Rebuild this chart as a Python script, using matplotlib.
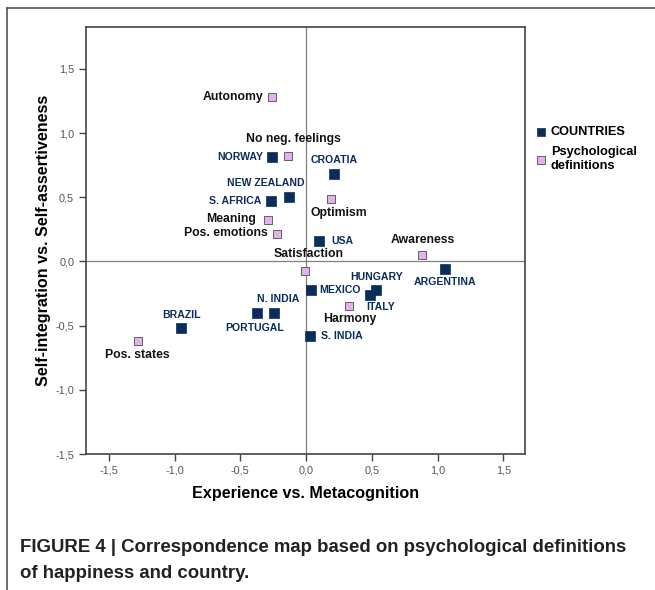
import matplotlib.pyplot as plt
from matplotlib.lines import Line2D
from matplotlib.ticker import FuncFormatter

plt.rcParams["font.family"] = ["Liberation Sans", "DejaVu Sans"]

# Data: correspondence analysis coordinates
countries = ["NORWAY", "CROATIA", "NEW ZEALAND", "S. AFRICA", "USA", "ARGENTINA",
             "MEXICO", "HUNGARY", "ITALY", "N. INDIA", "PORTUGAL", "BRAZIL", "S. INDIA"]
country_x = [-0.26, 0.21, -0.13, -0.27, 0.10, 1.06, 0.04, 0.53, 0.49, -0.24, -0.375, -0.95, 0.03]
country_y = [0.81, 0.68, 0.50, 0.47, 0.16, -0.06, -0.22, -0.22, -0.26, -0.40, -0.40, -0.52, -0.58]

definitions = ["Autonomy", "No neg. feelings", "Optimism", "Meaning", "Pos. emotions",
               "Satisfaction", "Awareness", "Harmony", "Pos. states"]
def_x = [-0.26, -0.14, 0.19, -0.29, -0.22, -0.01, 0.88, 0.33, -1.28]
def_y = [1.28, 0.82, 0.49, 0.32, 0.21, -0.075, 0.05, -0.35, -0.62]

x_ticks = [-1.5, -1.0, -0.5, 0.0, 0.5, 1.0, 1.5]
y_ticks = [-1.5, -1.0, -0.5, 0.0, 0.5, 1.0, 1.5]

# label placement (pixel offsets from marker, horizontal alignment)
country_offsets = [(-9, 0, "right"), (1, -14, "center"), (-23, -14, "center"),
                   (-9, 0, "right"), (12, 0, "left"), (0, 13, "center"),
                   (8, 0, "left"), (1, -13, "center"), (-4, 12, "left"),
                   (4, -14, "center"), (-2, 15, "center"), (0, -13, "center"),
                   (11, 0, "left")]
def_offsets = [(-8, 0, "right"), (6, -17, "center"), (8, 14, "center"),
               (-12, -1, "right"), (-9, -1, "right"), (4, -17, "center"),
               (1, -15, "center"), (0, 13, "center"), (0, 14, "center")]

navy = "#0b2d5c"
pink = "#e2b3ea"

fig = plt.figure(figsize=(6.55, 5.9), dpi=100)
ax = fig.add_axes([0.1313, 0.2305, 0.6702, 0.7237])

ax.axhline(0, color="#808080", lw=0.9, zorder=1)
ax.axvline(0, color="#808080", lw=0.9, zorder=1)

ax.scatter(country_x, country_y, marker="s", s=50, color=navy, edgecolor=navy,
           linewidth=0.5, zorder=3, label="COUNTRIES")
ax.scatter(def_x, def_y, marker="s", s=40, color=pink, edgecolor="#6a5a70",
           linewidth=0.7, zorder=3, label="Psychological\ndefinitions")

for name, x, y, (dx, dy, ha) in zip(countries, country_x, country_y, country_offsets):
    ax.annotate(name, (x, y), xytext=(dx, -dy), textcoords="offset pixels",
                ha=ha, va="center", fontsize=7.6, fontweight="bold", color=navy)

for name, x, y, (dx, dy, ha) in zip(definitions, def_x, def_y, def_offsets):
    ax.annotate(name, (x, y), xytext=(dx, -dy), textcoords="offset pixels",
                ha=ha, va="center", fontsize=8.8, fontweight="bold", color="#111111")

ax.set_xlim(-1.673, 1.665)
ax.set_ylim(-1.5, 1.826)
ax.set_xticks(x_ticks)
ax.set_yticks(y_ticks)
comma = FuncFormatter(lambda v, p: f"{v:.1f}".replace(".", ","))
ax.xaxis.set_major_formatter(comma)
ax.yaxis.set_major_formatter(comma)
ax.tick_params(direction="out", length=5, width=1, color="#444444",
               labelsize=7.8, labelcolor="#555555")
for sp in ax.spines.values():
    sp.set_color("#444444")
    sp.set_linewidth(1.2)

ax.set_xlabel("Experience vs. Metacognition", fontsize=11.6, fontweight="bold", labelpad=7)
ax.set_ylabel("Self-integration vs. Self-assertiveness", fontsize=11.6,
              fontweight="bold", labelpad=3)

ax.legend(loc="upper left", bbox_to_anchor=(0.995, 0.795), frameon=False,
          prop={"weight": "bold", "size": 9.2}, handlelength=1.0,
          handletextpad=0.3, labelspacing=0.6, markerscale=0.9)

# outer figure frame (top and left edges visible)
fig.add_artist(Line2D([0.011, 0.011], [0.0, 0.986], color="#555555", lw=1.2))
fig.add_artist(Line2D([0.011, 1.0], [0.986, 0.986], color="#555555", lw=1.2))

fig.text(0.03, 0.05,
         "FIGURE 4 | Correspondence map based on psychological definitions\nof happiness and country.",
         fontsize=13.4, fontweight="bold", color="#222222", ha="left", va="center",
         linespacing=1.7)

fig.savefig("out.png", dpi=100)
